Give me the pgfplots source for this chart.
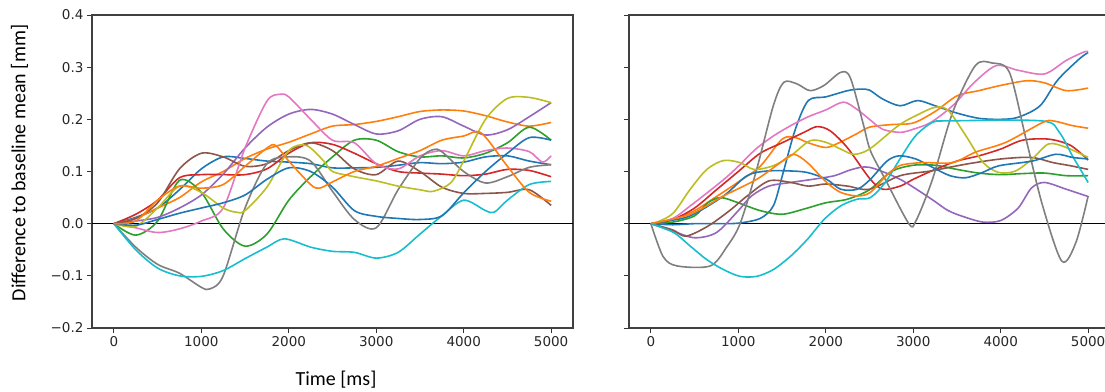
\documentclass[border=0pt]{standalone}
\usepackage{fontspec}
\usepackage{pgfplots}
\pgfplotsset{compat=1.18}
\setmainfont{Carlito}
\newfontfamily\dejavu{DejaVu Sans}
\newfontfamily\carlito{Carlito}
\definecolor{tblue}{HTML}{1F77B4}
\definecolor{torange}{HTML}{FF7F0E}
\definecolor{tgreen}{HTML}{2CA02C}
\definecolor{tred}{HTML}{D62728}
\definecolor{tpurple}{HTML}{9467BD}
\definecolor{tbrown}{HTML}{8C564B}
\definecolor{tpink}{HTML}{E377C2}
\definecolor{tgray}{HTML}{7F7F7F}
\definecolor{tolive}{HTML}{BCBD22}
\definecolor{tcyan}{HTML}{17BECF}
\pgfplotsset{
  panel/.style={
    scale only axis, width=481pt, height=313pt,
    xmin=-250, xmax=5250, ymin=-0.2, ymax=0.4,
    xtick={0,1000,2000,3000,4000,5000},
    xticklabels={0,1000,2000,3000,4000,5000},
    ytick={-0.2,-0.1,0,0.1,0.2,0.3,0.4},
    tick align=outside, xtick pos=bottom, ytick pos=left,
    major tick length=5pt,
    tick style={black!80, line width=1pt},
    axis line style={black!75, line width=1.2pt},
    tick label style={font=\dejavu\fontsize{13.5}{16}\selectfont, text=black!85},
    every axis plot/.append style={line width=1.6pt, smooth, no marks},
    clip=true,
  }
}
\begin{document}
\begin{tikzpicture}
\path[use as bounding box] (0pt,0pt) rectangle (1105pt,391pt);

\begin{axis}[panel, at={(92pt,63pt)}, anchor=south west,
  yticklabels={−0.2,−0.1,0.0,0.1,0.2,0.3,0.4}]
\addplot[black, line width=1pt, sharp plot] coordinates {(-250,0) (5250,0)};
% blue A
\addplot[tblue] coordinates {(0,0) (250,0.012) (500,0.03) (750,0.065) (1000,0.105) (1250,0.128) (1500,0.125) (1750,0.12) (2000,0.118) (2250,0.115) (2500,0.107) (2750,0.107) (3000,0.108) (3250,0.112) (3500,0.117) (3750,0.115) (4000,0.118) (4250,0.128) (4500,0.13) (4750,0.12) (5000,0.113)};
% orange 1
\addplot[torange] coordinates {(0,0) (250,0.01) (500,0.03) (750,0.05) (1000,0.08) (1250,0.1) (1500,0.125) (1750,0.143) (2000,0.156) (2250,0.172) (2500,0.187) (2750,0.19) (3000,0.196) (3250,0.205) (3500,0.215) (3750,0.218) (4000,0.216) (4250,0.207) (4500,0.195) (4750,0.187) (5000,0.194)};
% green
\addplot[tgreen] coordinates {(0,0) (250,-0.022) (500,0.005) (750,0.083) (1000,0.06) (1250,-0.01) (1500,-0.043) (1750,-0.02) (2000,0.045) (2250,0.09) (2500,0.128) (2750,0.16) (3000,0.16) (3250,0.138) (3500,0.128) (3750,0.13) (4000,0.126) (4250,0.135) (4500,0.155) (4750,0.185) (5000,0.16)};
% red
\addplot[tred] coordinates {(0,0) (250,0.018) (500,0.045) (750,0.088) (1000,0.094) (1250,0.094) (1500,0.094) (1750,0.105) (2000,0.135) (2250,0.155) (2500,0.152) (2750,0.135) (3000,0.115) (3250,0.1) (3500,0.097) (3750,0.095) (4000,0.092) (4250,0.095) (4500,0.104) (4750,0.102) (5000,0.09)};
% purple
\addplot[tpurple] coordinates {(0,0) (250,0.005) (500,0.012) (750,0.03) (1000,0.055) (1250,0.095) (1500,0.145) (1750,0.185) (2000,0.21) (2250,0.219) (2500,0.21) (2750,0.19) (3000,0.172) (3250,0.178) (3500,0.2) (3750,0.205) (4000,0.187) (4250,0.17) (4500,0.18) (4750,0.205) (5000,0.232)};
% brown
\addplot[tbrown] coordinates {(0,0) (250,0.01) (500,0.04) (750,0.105) (1000,0.135) (1250,0.128) (1500,0.11) (1750,0.115) (2000,0.14) (2250,0.155) (2500,0.14) (2750,0.105) (3000,0.094) (3250,0.12) (3500,0.1) (3750,0.07) (4000,0.058) (4250,0.058) (4500,0.06) (4750,0.065) (5000,0.035)};
% pink
\addplot[tpink] coordinates {(0,0) (250,-0.008) (500,-0.017) (750,-0.01) (1000,0.005) (1250,0.03) (1500,0.145) (1750,0.235) (1900,0.248) (2000,0.243) (2250,0.2) (2500,0.16) (2750,0.155) (3000,0.115) (3250,0.105) (3500,0.13) (3750,0.14) (4000,0.13) (4250,0.14) (4500,0.145) (4750,0.138) (4900,0.118) (5000,0.13)};
% gray
\addplot[tgray] coordinates {(0,0) (250,-0.045) (500,-0.078) (750,-0.095) (1000,-0.122) (1100,-0.125) (1250,-0.1) (1500,0.03) (1750,0.115) (2000,0.128) (2250,0.12) (2500,0.062) (2750,0.008) (3000,-0.008) (3250,0.065) (3500,0.125) (3650,0.142) (3750,0.138) (4000,0.1) (4250,0.078) (4500,0.09) (4750,0.108) (5000,0.113)};
% olive
\addplot[tolive] coordinates {(0,0) (250,-0.005) (500,0.03) (750,0.072) (1000,0.06) (1250,0.03) (1400,0.022) (1500,0.025) (1750,0.07) (2000,0.14) (2200,0.15) (2400,0.12) (2500,0.1) (2750,0.09) (3000,0.082) (3250,0.072) (3500,0.065) (3650,0.062) (3850,0.078) (4000,0.12) (4250,0.2) (4500,0.24) (4750,0.242) (5000,0.232)};
% cyan
\addplot[tcyan] coordinates {(0,0) (250,-0.05) (500,-0.085) (750,-0.1) (1000,-0.101) (1250,-0.09) (1500,-0.067) (1750,-0.045) (1950,-0.029) (2250,-0.045) (2500,-0.053) (2750,-0.055) (3000,-0.066) (3250,-0.055) (3500,-0.02) (3750,0.015) (4000,0.045) (4250,0.025) (4350,0.022) (4500,0.045) (4750,0.075) (5000,0.081)};
% blue B
\addplot[tblue] coordinates {(0,0) (250,-0.003) (500,0.008) (750,0.02) (1000,0.03) (1250,0.04) (1500,0.055) (1750,0.085) (2000,0.107) (2250,0.1) (2500,0.07) (2750,0.025) (3000,0.014) (3250,0.01) (3500,0.008) (3750,0.015) (4000,0.059) (4250,0.1) (4500,0.135) (4750,0.165) (5000,0.16)};
% orange 2
\addplot[torange] coordinates {(0,0) (250,0.005) (500,0.045) (750,0.072) (1000,0.068) (1250,0.075) (1500,0.11) (1750,0.145) (1850,0.15) (2000,0.12) (2250,0.075) (2350,0.068) (2500,0.08) (2750,0.1) (3000,0.11) (3250,0.125) (3500,0.14) (3750,0.16) (4000,0.168) (4200,0.174) (4500,0.11) (4750,0.06) (5000,0.043)};
\end{axis}

\begin{axis}[panel, at={(629pt,63pt)}, anchor=south west, yticklabels={}]
\addplot[black, line width=1pt, sharp plot] coordinates {(-250,0) (5250,0)};
% blue 1
\addplot[tblue] coordinates {(0,0) (250,-0.002) (500,0) (750,0) (1000,0.001) (1250,0.01) (1400,0.034) (1500,0.09) (1650,0.18) (1800,0.236) (2000,0.243) (2250,0.255) (2400,0.258) (2500,0.256) (2650,0.239) (2850,0.226) (3050,0.236) (3250,0.226) (3500,0.212) (3750,0.202) (4000,0.2) (4200,0.204) (4450,0.226) (4650,0.275) (4900,0.316) (5000,0.328)};
% orange 1
\addplot[torange] coordinates {(0,0) (250,0.008) (500,0.025) (750,0.052) (1000,0.08) (1250,0.11) (1500,0.162) (1650,0.165) (1800,0.155) (2000,0.146) (2150,0.155) (2350,0.172) (2500,0.185) (2750,0.19) (3000,0.193) (3250,0.215) (3500,0.245) (3750,0.255) (4000,0.265) (4300,0.274) (4500,0.27) (4750,0.255) (5000,0.26)};
% green
\addplot[tgreen] coordinates {(0,0) (250,0.003) (500,0.015) (650,0.04) (800,0.05) (1000,0.04) (1250,0.025) (1500,0.018) (1750,0.028) (2000,0.04) (2250,0.047) (2500,0.065) (2750,0.1) (3000,0.112) (3250,0.112) (3500,0.104) (3750,0.097) (4000,0.094) (4250,0.096) (4500,0.097) (4750,0.092) (5000,0.092)};
% red
\addplot[tred] coordinates {(0,0) (250,0.008) (500,0.03) (750,0.065) (1000,0.1) (1250,0.135) (1500,0.155) (1750,0.175) (1900,0.186) (2050,0.178) (2250,0.145) (2500,0.087) (2650,0.066) (2850,0.072) (3000,0.085) (3250,0.104) (3500,0.12) (3750,0.13) (4000,0.143) (4250,0.16) (4550,0.162) (4800,0.15) (5000,0.122)};
% purple
\addplot[tpurple] coordinates {(0,0) (250,-0.014) (500,-0.027) (750,-0.017) (1000,0.025) (1150,0.053) (1350,0.072) (1600,0.079) (1850,0.085) (2100,0.092) (2300,0.104) (2500,0.108) (2850,0.085) (3200,0.048) (3400,0.025) (3600,0.012) (3800,0.003) (4000,0.006) (4200,0.03) (4350,0.068) (4500,0.079) (4750,0.066) (5000,0.052)};
% brown
\addplot[tbrown] coordinates {(0,0) (250,-0.012) (400,-0.024) (650,-0.005) (900,0.025) (1100,0.053) (1350,0.082) (1600,0.079) (1800,0.072) (2000,0.076) (2250,0.072) (2500,0.066) (2850,0.092) (3200,0.101) (3600,0.114) (4000,0.124) (4350,0.127) (4600,0.117) (4800,0.111) (5000,0.104)};
% pink
\addplot[tpink] coordinates {(0,0) (250,0.01) (450,0.034) (650,0.06) (850,0.087) (1000,0.11) (1200,0.143) (1400,0.168) (1600,0.188) (1800,0.205) (2000,0.218) (2200,0.233) (2350,0.22) (2500,0.2) (2650,0.181) (2850,0.175) (3000,0.181) (3200,0.194) (3450,0.226) (3700,0.271) (3950,0.303) (4200,0.294) (4500,0.287) (4750,0.313) (4950,0.329) (5000,0.33)};
% gray
\addplot[tgray] coordinates {(0,0) (140,-0.063) (300,-0.081) (680,-0.081) (870,-0.044) (1020,0.0) (1200,0.098) (1400,0.226) (1520,0.271) (1670,0.268) (1820,0.255) (1980,0.265) (2170,0.29) (2280,0.28) (2430,0.19) (2510,0.14) (2680,0.085) (2950,0.0) (3030,0.005) (3220,0.085) (3450,0.213) (3710,0.303) (3900,0.308) (4100,0.29) (4290,0.162) (4480,0.034) (4700,-0.072) (4860,-0.036) (5000,0.053)};
% olive
\addplot[tolive] coordinates {(0,0) (100,0.005) (260,0.021) (450,0.066) (640,0.104) (830,0.121) (1020,0.117) (1180,0.104) (1400,0.111) (1600,0.13) (1820,0.159) (2000,0.156) (2170,0.143) (2320,0.133) (2500,0.143) (2830,0.188) (3030,0.207) (3250,0.223) (3400,0.217) (3600,0.169) (3800,0.117) (3980,0.098) (4170,0.101) (4360,0.124) (4550,0.153) (4750,0.146) (5000,0.127)};
% cyan
\addplot[tcyan] coordinates {(0,0) (260,-0.017) (450,-0.043) (640,-0.069) (830,-0.088) (1020,-0.101) (1210,-0.101) (1400,-0.088) (1600,-0.062) (1790,-0.03) (1980,0.008) (2170,0.034) (2360,0.047) (2510,0.05) (2680,0.079) (2870,0.13) (3030,0.169) (3220,0.194) (3400,0.197) (4470,0.197) (4670,0.175) (4820,0.13) (5000,0.079)};
% blue 2
\addplot[tblue] coordinates {(0,0) (150,0.004) (450,0.015) (830,0.053) (1100,0.092) (1330,0.101) (1600,0.101) (1790,0.098) (2010,0.085) (2170,0.066) (2360,0.066) (2510,0.085) (2700,0.12) (2840,0.13) (3030,0.124) (3220,0.108) (3420,0.092) (3600,0.088) (3790,0.098) (3980,0.111) (4360,0.12) (4630,0.133) (4820,0.127) (5000,0.124)};
% orange 2
\addplot[torange] coordinates {(0,0) (450,0.018) (830,0.053) (1210,0.085) (1480,0.117) (1630,0.133) (1790,0.117) (2010,0.079) (2170,0.06) (2360,0.053) (2510,0.06) (2680,0.09) (2840,0.111) (3100,0.117) (3450,0.117) (3710,0.137) (4060,0.156) (4480,0.194) (4600,0.197) (4820,0.188) (5000,0.183)};
\end{axis}

\node[rotate=90, font=\carlito\fontsize{20}{24}\selectfont] at (19.5pt,228pt) {Difference to baseline mean [mm]};
\node[font=\carlito\fontsize{20}{24}\selectfont] at (336pt,11pt) {Time [ms]};
\end{tikzpicture}
\end{document}
